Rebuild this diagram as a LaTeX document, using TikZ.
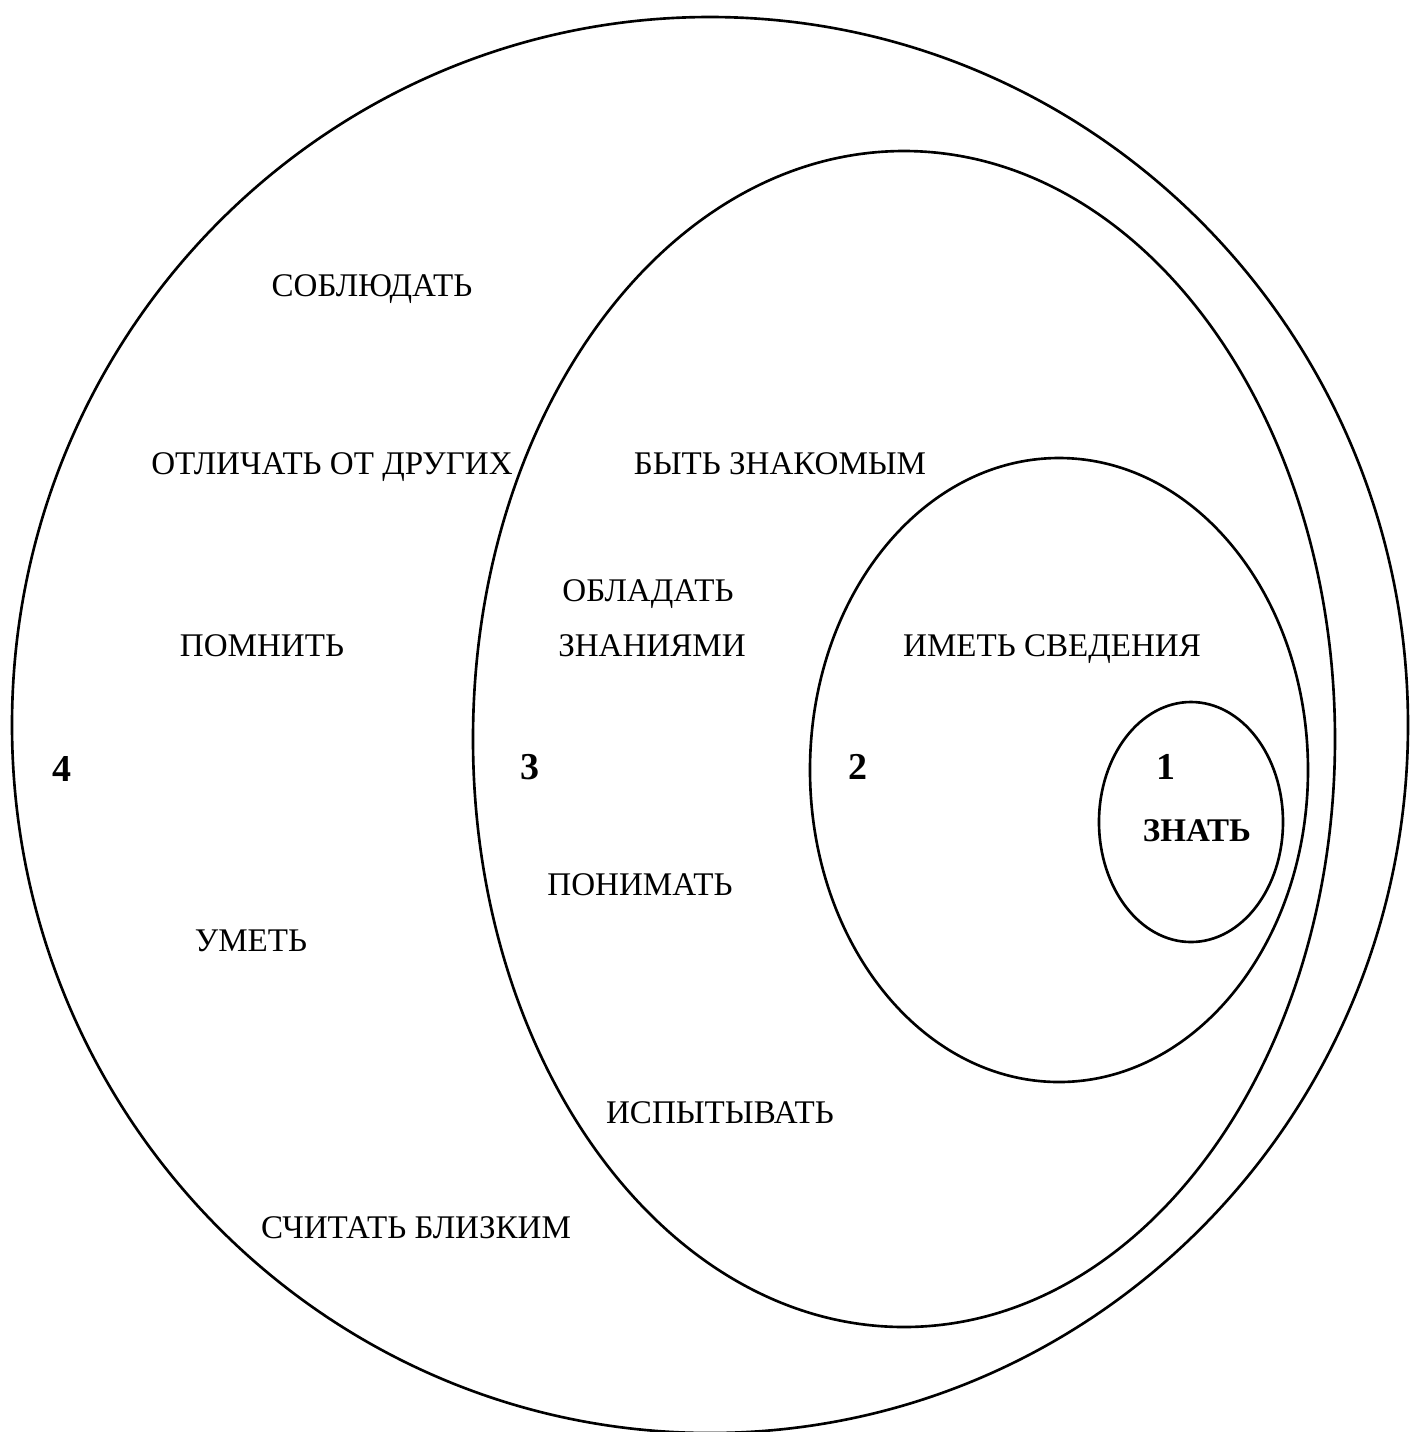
\documentclass[tikz,border=0pt]{standalone}
\usepackage{fontspec}
\setmainfont{Liberation Serif}
\usetikzlibrary{positioning}

\tikzset{
  ring/.style={line width=0.75pt},
  word/.style={anchor=base, inner sep=0pt, font=\fontsize{9.4pt}{11pt}\selectfont},
  level/.style={anchor=base, inner sep=0pt, font=\fontsize{10.8pt}{12pt}\selectfont\bfseries},
}

\begin{document}
\begin{tikzpicture}[x=0.01cm, y=-0.01cm]
  \useasboundingbox (0,0) rectangle (1410,1432);
  % nested fields, 4 outside, 1 inside
  \draw[ring] (710,725) ellipse (698 and 708);
  \draw[ring] (904,739) ellipse (431 and 588);
  \draw[ring] (1059,770) ellipse (249 and 312);
  \draw[ring] (1191,822) ellipse (92 and 120);
  % level numbers
  \node[level] (n4) at (62,781) {4};
  \node[level] (n3) at (530,779) {3};
  \node[level] (n2) at (858,779) {2};
  \node[level] (n1) at (1166,779) {1};
  % words of field 4
  \node[word] (keep)   at (372,296)  {СОБЛЮДАТЬ};
  \node[word] (tell)   at (332,474)  {ОТЛИЧАТЬ ОТ ДРУГИХ};
  \node[word] (recall) at (262,656)  {ПОМНИТЬ};
  \node[word] (can)    at (251,951)  {УМЕТЬ};
  \node[word] (near)   at (416,1238) {СЧИТАТЬ БЛИЗКИМ};
  % words of field 3
  \node[word] (famil)  at (780,474)  {БЫТЬ ЗНАКОМЫМ};
  \node[word] (own)    at (648,601)  {ОБЛАДАТЬ};
  \node[word] (owntoo) at (652,656)  {ЗНАНИЯМИ};
  \node[word] (grasp)  at (640,895)  {ПОНИМАТЬ};
  \node[word] (feel)   at (720,1123) {ИСПЫТЫВАТЬ};
  % field 2 and the core
  \node[word] (info)   at (1052,656) {ИМЕТЬ СВЕДЕНИЯ};
  \node[word, font=\fontsize{9.4pt}{11pt}\selectfont\bfseries] (know) at (1197,841) {ЗНАТЬ};
\end{tikzpicture}
\end{document}
